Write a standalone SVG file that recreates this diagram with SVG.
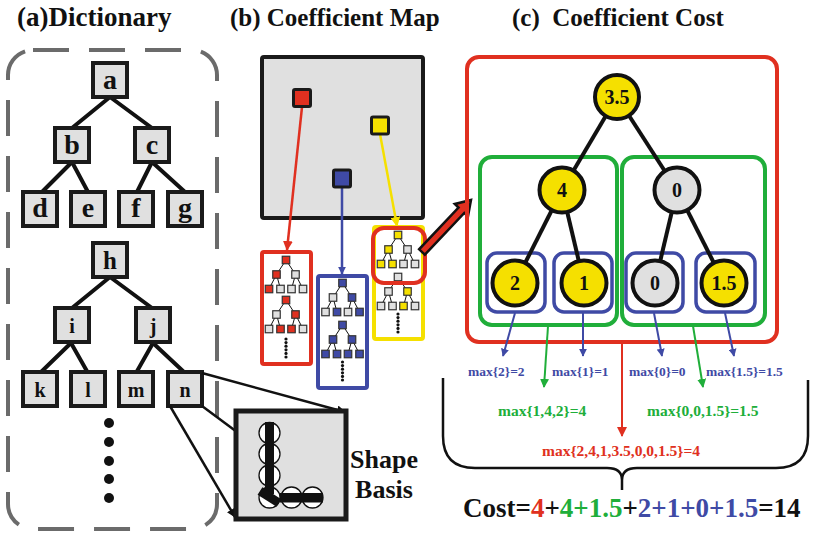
<svg xmlns="http://www.w3.org/2000/svg" width="813" height="537" viewBox="0 0 813 537">
  <defs>
    <style>
      text { font-family: 'Liberation Serif', Tinos, 'Nimbus Roman', 'Times New Roman', 'DejaVu Serif', serif; font-weight: bold; }
      .title { font-size: 25px; fill: #111; }
      .dn { fill: #e0e0e0; stroke: #1a1a1a; stroke-width: 4; }
      .de { stroke: #111; stroke-width: 4; stroke-linecap: round; fill: none; }
      .lt { font-size: 28px; text-anchor: middle; fill: #111; }
      .lt2 { font-size: 20px; text-anchor: middle; fill: #111; }
      .tn { stroke: #333; stroke-width: 1.2; }
      .r { fill: #e03020; }
      .b { fill: #3f4aa5; }
      .y { fill: #f5e000; }
      .w { fill: #e0e0e0; }
      .te { stroke: #111; stroke-width: 1; fill: none; }
      .cn { stroke: #111; stroke-width: 4; }
      .num { font-size: 20px; text-anchor: middle; fill: #111; }
      .ce { stroke: #111; stroke-width: 4; fill: none; }
      .box-r { fill: none; stroke: #e03020; stroke-width: 4; }
      .box-g { fill: none; stroke: #20ae3a; stroke-width: 4; }
      .box-b { fill: none; stroke: #3f4aa5; stroke-width: 3.5; }
      .lb { font-size: 13.5px; fill: #3f4aa5; }
      .lg { font-size: 15.5px; fill: #20ae3a; }
      .lr { font-size: 15.5px; fill: #e03020; }
      .tb { fill: #3f4aa5; }
      .tg { fill: #20ae3a; }
      .tr { fill: #e03020; }
    </style>
    <marker id="ab" viewBox="0 0 10 10" refX="9" refY="5" markerWidth="8" markerHeight="8" markerUnits="userSpaceOnUse" orient="auto"><path d="M0,0 L10,5 L0,10 z" fill="#3f4aa5"/></marker>
    <marker id="ag" viewBox="0 0 10 10" refX="9" refY="5" markerWidth="9" markerHeight="9" markerUnits="userSpaceOnUse" orient="auto"><path d="M0,0 L10,5 L0,10 z" fill="#20ae3a"/></marker>
    <marker id="ar" viewBox="0 0 10 10" refX="9" refY="5" markerWidth="10" markerHeight="10" markerUnits="userSpaceOnUse" orient="auto"><path d="M0,0 L10,5 L0,10 z" fill="#e03020"/></marker>
    <marker id="ay" viewBox="0 0 10 10" refX="9" refY="5" markerWidth="10" markerHeight="10" markerUnits="userSpaceOnUse" orient="auto"><path d="M0,0 L10,5 L0,10 z" fill="#f5e000"/></marker>
    <marker id="ak" viewBox="0 0 10 10" refX="9" refY="5" markerWidth="9" markerHeight="9" markerUnits="userSpaceOnUse" orient="auto"><path d="M0,0 L10,5 L0,10 z" fill="#111"/></marker>
    <!-- edges of a small three-level tree, root at origin -->
    <g id="te" class="te">
      <line x1="0" y1="0" x2="-9.5" y2="14.5"/>
      <line x1="0" y1="0" x2="9.5" y2="14.5"/>
      <line x1="-9.5" y1="14.5" x2="-17" y2="29"/>
      <line x1="-9.5" y1="14.5" x2="-5.5" y2="29"/>
      <line x1="9.5" y1="14.5" x2="5.5" y2="29"/>
      <line x1="9.5" y1="14.5" x2="17" y2="29"/>
    </g>
    <g id="dots" fill="#111">
      <circle cx="0" cy="0" r="1.6"/>
      <circle cx="0" cy="3.6" r="1.6"/>
      <circle cx="0" cy="7.2" r="1.6"/>
      <circle cx="0" cy="10.8" r="1.6"/>
      <circle cx="0" cy="14.4" r="1.6"/>
      <circle cx="0" cy="18" r="1.6"/>
    </g>
  </defs>

  <rect width="813" height="537" fill="#fff"/>

  <!-- titles -->
  <text class="title" x="17" y="26" style="font-size:27px">(a)Dictionary</text>
  <text class="title" x="230" y="26">(b) Coefficient Map</text>
  <text class="title" x="512" y="26" xml:space="preserve">(c)  Coefficient Cost</text>

  <!-- (a) dictionary -->
  <rect x="8" y="50" width="209" height="479" rx="25" fill="none" stroke="#6b6b6b" stroke-width="4" stroke-dasharray="36 20"/>

  <g id="dict-edges">
    <line class="de" x1="110" y1="97" x2="72" y2="128"/>
    <line class="de" x1="110" y1="97" x2="152" y2="128"/>
    <line class="de" x1="72" y1="162" x2="42" y2="192"/>
    <line class="de" x1="72" y1="162" x2="88" y2="192"/>
    <line class="de" x1="152" y1="162" x2="137" y2="192"/>
    <line class="de" x1="152" y1="162" x2="185" y2="192"/>
    <line class="de" x1="110" y1="277" x2="72" y2="308"/>
    <line class="de" x1="110" y1="277" x2="152" y2="308"/>
    <line class="de" x1="71" y1="343" x2="40" y2="373"/>
    <line class="de" x1="71" y1="343" x2="88" y2="373"/>
    <line class="de" x1="153" y1="343" x2="136" y2="373"/>
    <line class="de" x1="153" y1="343" x2="185" y2="373"/>
  </g>

  <g id="node-a"><rect class="dn" x="93" y="63" width="34" height="34"/><text class="lt" x="110" y="89">a</text></g>
  <g id="node-b"><rect class="dn" x="55" y="128" width="34" height="34"/><text class="lt" x="72" y="154">b</text></g>
  <g id="node-c"><rect class="dn" x="135" y="128" width="34" height="34"/><text class="lt" x="152" y="154">c</text></g>
  <g id="node-d"><rect class="dn" x="23" y="192" width="34" height="34"/><text class="lt" x="40" y="217">d</text></g>
  <g id="node-e"><rect class="dn" x="71" y="192" width="34" height="34"/><text class="lt" x="88" y="217">e</text></g>
  <g id="node-f"><rect class="dn" x="119" y="192" width="34" height="34"/><text class="lt" x="136" y="217">f</text></g>
  <g id="node-g"><rect class="dn" x="168" y="192" width="34" height="34"/><text class="lt" x="185" y="217">g</text></g>

  <g id="node-h"><rect class="dn" x="93" y="243" width="34" height="34"/><text class="lt" x="110" y="269" style="font-size:25px">h</text></g>
  <g id="node-i"><rect class="dn" x="55" y="308" width="34" height="34"/><text class="lt2" x="72" y="333">i</text></g>
  <g id="node-j"><rect class="dn" x="136" y="308" width="34" height="34"/><text class="lt2" x="153" y="333">j</text></g>
  <g id="node-k"><rect class="dn" x="23" y="372" width="34" height="34"/><text class="lt2" x="40" y="397">k</text></g>
  <g id="node-l"><rect class="dn" x="71" y="372" width="34" height="34"/><text class="lt2" x="88" y="397">l</text></g>
  <g id="node-m"><rect class="dn" x="119" y="372" width="34" height="34"/><text class="lt2" x="136" y="397">m</text></g>
  <g id="node-n"><rect class="dn" x="168" y="372" width="34" height="34"/><text class="lt2" x="185" y="397">n</text></g>

  <g id="dict-more" fill="#111">
    <circle cx="109" cy="423" r="5"/>
    <circle cx="109" cy="442" r="5"/>
    <circle cx="109" cy="461" r="5"/>
    <circle cx="109" cy="479" r="5"/>
    <circle cx="109" cy="498" r="5"/>
  </g>

  <!-- zoom lines from n to its shape basis -->
  <g id="zoom-lines" stroke="#111" stroke-width="2.5" fill="none">
    <line x1="202" y1="373" x2="345" y2="412" marker-end="url(#ak)"/>
    <line x1="202" y1="406" x2="237" y2="432"/>
    <line x1="170" y1="406" x2="235" y2="517" marker-end="url(#ak)"/>
  </g>

  <g id="shape-basis">
    <rect x="236" y="411" width="110" height="108" fill="#e0e0e0" stroke="#1a1a1a" stroke-width="5"/>
    <g fill="#fff" stroke="#111" stroke-width="1.3">
      <circle cx="269.5" cy="433" r="10.5"/>
      <circle cx="269.5" cy="454" r="10.5"/>
      <circle cx="269.5" cy="475.5" r="10.5"/>
      <circle cx="269.5" cy="497.5" r="10.5"/>
      <circle cx="291.5" cy="497.5" r="10.5"/>
      <circle cx="312.5" cy="497.5" r="10.5"/>
    </g>
    <rect x="265" y="422" width="9" height="72" fill="#111"/>
    <rect x="280" y="493" width="43" height="9.5" fill="#111"/>
    <line x1="260" y1="491" x2="279" y2="503" stroke="#111" stroke-width="9"/>
    <text x="384" y="468" text-anchor="middle" style="font-size:26px" fill="#111">Shape</text>
    <text x="384" y="498" text-anchor="middle" style="font-size:26px" fill="#111">Basis</text>
  </g>

  <!-- (b) coefficient map -->
  <g id="coef-map">
    <rect x="262" y="57" width="161" height="161" rx="2" fill="#e0e0e0" stroke="#1a1a1a" stroke-width="4"/>
  </g>

  <g id="map-connectors" fill="none" stroke-width="2.5">
    <line x1="302" y1="107" x2="287" y2="250" stroke="#e03020" marker-end="url(#ar)"/>
    <line x1="342" y1="187" x2="342" y2="274" stroke="#3f4aa5" marker-end="url(#ab)"/>
    <line x1="380" y1="134" x2="397" y2="226" stroke="#f5e000" marker-end="url(#ay)"/>
  </g>

  <g id="coef-red"><rect x="293.5" y="89.5" width="17" height="17" rx="1.5" class="r" stroke="#1a1a1a" stroke-width="3"/></g>
  <g id="coef-yellow"><rect x="371.5" y="117" width="17" height="17" rx="1.5" class="y" stroke="#1a1a1a" stroke-width="3"/></g>
  <g id="coef-blue"><rect x="333.5" y="170" width="17" height="17" rx="1.5" class="b" stroke="#1a1a1a" stroke-width="3"/></g>

  <!-- red group of trees -->
  <g id="trees-red">
    <rect x="262" y="252" width="49" height="112" rx="2" fill="none" stroke="#e03020" stroke-width="4"/>
    <g transform="translate(286,260)">
      <use href="#te"/>
      <rect class="tn r" x="-3.75" y="-3.75" width="7.5" height="7.5"/>
      <rect class="tn r" x="-13.25" y="10.75" width="7.5" height="7.5"/>
      <rect class="tn w" x="5.75" y="10.75" width="7.5" height="7.5"/>
      <rect class="tn r" x="-20.75" y="25.25" width="7.5" height="7.5"/>
      <rect class="tn w" x="-9.25" y="25.25" width="7.5" height="7.5"/>
      <rect class="tn w" x="1.75" y="25.25" width="7.5" height="7.5"/>
      <rect class="tn w" x="13.25" y="25.25" width="7.5" height="7.5"/>
    </g>
    <g transform="translate(286,300)">
      <use href="#te"/>
      <rect class="tn r" x="-3.75" y="-3.75" width="7.5" height="7.5"/>
      <rect class="tn w" x="-13.25" y="10.75" width="7.5" height="7.5"/>
      <rect class="tn r" x="5.75" y="10.75" width="7.5" height="7.5"/>
      <rect class="tn w" x="-20.75" y="25.25" width="7.5" height="7.5"/>
      <rect class="tn r" x="-9.25" y="25.25" width="7.5" height="7.5"/>
      <rect class="tn r" x="1.75" y="25.25" width="7.5" height="7.5"/>
      <rect class="tn w" x="13.25" y="25.25" width="7.5" height="7.5"/>
    </g>
    <use href="#dots" x="286" y="339"/>
  </g>

  <!-- blue group of trees -->
  <g id="trees-blue">
    <rect x="318" y="276" width="49" height="112" rx="2" fill="none" stroke="#3f4aa5" stroke-width="4"/>
    <g transform="translate(342.5,283)">
      <use href="#te"/>
      <rect class="tn b" x="-3.75" y="-3.75" width="7.5" height="7.5"/>
      <rect class="tn w" x="-13.25" y="10.75" width="7.5" height="7.5"/>
      <rect class="tn b" x="5.75" y="10.75" width="7.5" height="7.5"/>
      <rect class="tn w" x="-20.75" y="25.25" width="7.5" height="7.5"/>
      <rect class="tn b" x="-9.25" y="25.25" width="7.5" height="7.5"/>
      <rect class="tn w" x="1.75" y="25.25" width="7.5" height="7.5"/>
      <rect class="tn b" x="13.25" y="25.25" width="7.5" height="7.5"/>
    </g>
    <g transform="translate(342.5,325)">
      <use href="#te"/>
      <rect class="tn b" x="-3.75" y="-3.75" width="7.5" height="7.5"/>
      <rect class="tn b" x="-13.25" y="10.75" width="7.5" height="7.5"/>
      <rect class="tn b" x="5.75" y="10.75" width="7.5" height="7.5"/>
      <rect class="tn b" x="-20.75" y="25.25" width="7.5" height="7.5"/>
      <rect class="tn b" x="-9.25" y="25.25" width="7.5" height="7.5"/>
      <rect class="tn b" x="1.75" y="25.25" width="7.5" height="7.5"/>
      <rect class="tn b" x="13.25" y="25.25" width="7.5" height="7.5"/>
    </g>
    <use href="#dots" x="342.5" y="362"/>
  </g>

  <!-- yellow group of trees -->
  <g id="trees-yellow">
    <rect x="374" y="227" width="49" height="112" rx="2" fill="none" stroke="#f5e000" stroke-width="4"/>
    <g transform="translate(398,235)">
      <use href="#te"/>
      <rect class="tn y" x="-3.75" y="-3.75" width="7.5" height="7.5"/>
      <rect class="tn y" x="-13.25" y="10.75" width="7.5" height="7.5"/>
      <rect class="tn w" x="5.75" y="10.75" width="7.5" height="7.5"/>
      <rect class="tn y" x="-20.75" y="25.25" width="7.5" height="7.5"/>
      <rect class="tn y" x="-9.25" y="25.25" width="7.5" height="7.5"/>
      <rect class="tn w" x="1.75" y="25.25" width="7.5" height="7.5"/>
      <rect class="tn w" x="13.25" y="25.25" width="7.5" height="7.5"/>
    </g>
    <g transform="translate(398,277)">
      <use href="#te"/>
      <rect class="tn w" x="-3.75" y="-3.75" width="7.5" height="7.5"/>
      <rect class="tn w" x="-13.25" y="10.75" width="7.5" height="7.5"/>
      <rect class="tn y" x="5.75" y="10.75" width="7.5" height="7.5"/>
      <rect class="tn w" x="-20.75" y="25.25" width="7.5" height="7.5"/>
      <rect class="tn w" x="-9.25" y="25.25" width="7.5" height="7.5"/>
      <rect class="tn y" x="1.75" y="25.25" width="7.5" height="7.5"/>
      <rect class="tn w" x="13.25" y="25.25" width="7.5" height="7.5"/>
    </g>
    <use href="#dots" x="398" y="314"/>
    <rect x="373" y="228" width="52" height="55" rx="11" fill="none" stroke="#e03020" stroke-width="4"/>
  </g>

  <!-- thick arrow into the cost panel -->
  <polygon id="big-arrow" points="424.9,254.7 464.3,213 468,216.4 471,200 454.8,204 458.5,207.5 419.1,249.3" fill="#e03020" stroke="#111" stroke-width="2.5" stroke-linejoin="miter"/>

  <!-- (c) coefficient cost -->
  <g id="cost-boxes">
    <rect class="box-r" x="467" y="57" width="310" height="285" rx="12"/>
    <rect class="box-g" x="480" y="157" width="137" height="168" rx="12"/>
    <rect class="box-g" x="622" y="157" width="143" height="168" rx="12"/>
    <rect class="box-b" x="487" y="253" width="58" height="59" rx="10"/>
    <rect class="box-b" x="554" y="253" width="58" height="59" rx="10"/>
    <rect class="box-b" x="626" y="253" width="57" height="59" rx="10"/>
    <rect class="box-b" x="696" y="253" width="59" height="59" rx="10"/>
  </g>

  <g id="cost-edges">
    <line class="ce" x1="617" y1="97" x2="562" y2="190"/>
    <line class="ce" x1="617" y1="97" x2="677" y2="190"/>
    <line class="ce" x1="562" y1="190" x2="515" y2="283"/>
    <line class="ce" x1="562" y1="190" x2="584" y2="283"/>
    <line class="ce" x1="677" y1="190" x2="655" y2="283"/>
    <line class="ce" x1="677" y1="190" x2="724" y2="283"/>
  </g>

  <g id="c-root"><circle class="cn y" cx="617" cy="97" r="22"/><text class="num" x="617" y="104">3.5</text></g>
  <g id="c-4"><circle class="cn y" cx="562" cy="190" r="22.5"/><text class="num" x="562" y="197">4</text></g>
  <g id="c-0a"><circle class="cn w" cx="677" cy="190" r="22.5"/><text class="num" x="677" y="197">0</text></g>
  <g id="c-2"><circle class="cn y" cx="515" cy="283" r="22.5"/><text class="num" x="515" y="290">2</text></g>
  <g id="c-1"><circle class="cn y" cx="584" cy="283" r="22.5"/><text class="num" x="584" y="290">1</text></g>
  <g id="c-0b"><circle class="cn w" cx="655" cy="283" r="22.5"/><text class="num" x="655" y="290">0</text></g>
  <g id="c-15"><circle class="cn y" cx="724" cy="283" r="22.5"/><text class="num" x="724" y="290">1.5</text></g>

  <g id="cost-connectors" fill="none">
    <line x1="515" y1="313" x2="503" y2="356" stroke="#3f4aa5" stroke-width="2" marker-end="url(#ab)"/>
    <line x1="583" y1="313" x2="583" y2="356" stroke="#3f4aa5" stroke-width="2" marker-end="url(#ab)"/>
    <line x1="654" y1="313" x2="662" y2="356" stroke="#3f4aa5" stroke-width="2" marker-end="url(#ab)"/>
    <line x1="725" y1="313" x2="734" y2="356" stroke="#3f4aa5" stroke-width="2" marker-end="url(#ab)"/>
    <line x1="548" y1="326" x2="544" y2="387" stroke="#20ae3a" stroke-width="2" marker-end="url(#ag)"/>
    <line x1="693" y1="326" x2="703" y2="387" stroke="#20ae3a" stroke-width="2" marker-end="url(#ag)"/>
    <line x1="622" y1="343" x2="622" y2="436" stroke="#e03020" stroke-width="2" marker-end="url(#ar)"/>
  </g>

  <g id="cost-labels">
    <text class="lb" x="468" y="376">max{2}=2</text>
    <text class="lb" x="552" y="376">max{1}=1</text>
    <text class="lb" x="629" y="376">max{0}=0</text>
    <text class="lb" x="706" y="376">max{1.5}=1.5</text>
    <text class="lg" x="498" y="416">max{1,4,2}=4</text>
    <text class="lg" x="647" y="416">max{0,0,1.5}=1.5</text>
    <text class="lr" x="542" y="456">max{2,4,1,3.5,0,0,1.5}=4</text>
  </g>

  <path id="brace" d="M443,378 L443,436 Q443,468 475,468 L607,468 Q622,468 622,480 L622,490 M622,480 Q622,468 637,468 L776,468 Q808,468 808,436 L808,380" fill="none" stroke="#111" stroke-width="2.5"/>

  <text id="cost-total" x="463" y="517" style="font-size:27px" fill="#111">Cost=<tspan class="tr">4</tspan>+<tspan class="tg">4+1.5</tspan>+<tspan class="tb">2+1+0+1.5</tspan>=14</text>
</svg>
